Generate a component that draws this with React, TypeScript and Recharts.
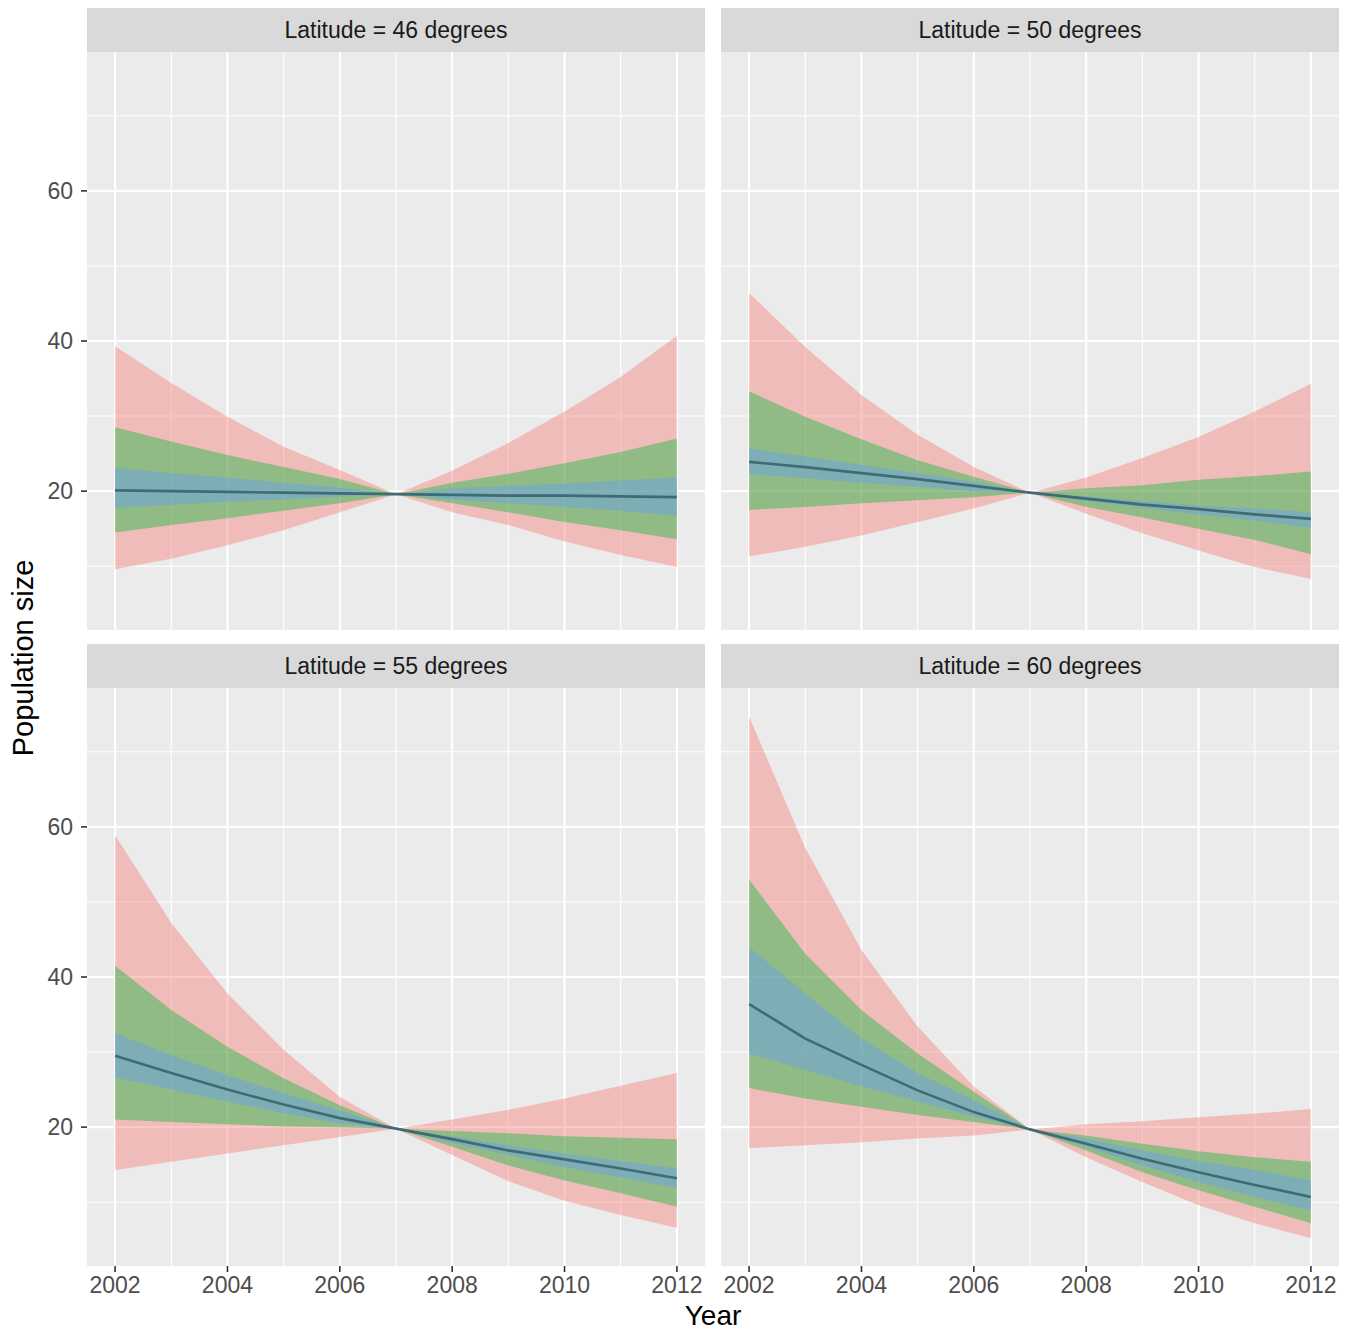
import { ComposedChart, Area, Line, XAxis, YAxis, CartesianGrid } from 'recharts';

// Population projections by latitude, ribbons = nested credible bands

const years = [2002, 2003, 2004, 2005, 2006, 2007, 2008, 2009, 2010, 2011, 2012];
const xTicks = [2002, 2004, 2006, 2008, 2010, 2012];
const xMinor = [2003, 2005, 2007, 2009, 2011];
const yTicks = [20, 40, 60];
const yMinor = [10, 30, 50, 70];

// Latitude = 46
const lat46Mid = [20.1, 20.0, 19.9, 19.8, 19.7, 19.6, 19.5, 19.4, 19.4, 19.3, 19.2];
const lat46BlueLo = [17.8, 18.2, 18.6, 18.9, 19.3, 19.6, 18.9, 18.4, 17.9, 17.4, 16.7];
const lat46BlueHi = [23.1, 22.4, 21.8, 21.1, 20.5, 19.6, 20.4, 20.7, 21.0, 21.4, 21.8];
const lat46GreenLo = [14.5, 15.5, 16.4, 17.4, 18.4, 19.6, 18.4, 17.2, 15.9, 14.8, 13.6];
const lat46GreenHi = [28.5, 26.6, 24.8, 23.2, 21.6, 19.6, 21.1, 22.3, 23.7, 25.2, 27.0];
const lat46RedLo = [9.6, 11.0, 12.8, 14.8, 17.2, 19.6, 17.2, 15.5, 13.3, 11.5, 9.9];
const lat46RedHi = [39.3, 34.4, 29.9, 25.9, 22.8, 19.6, 22.7, 26.4, 30.6, 35.2, 40.7];

// Latitude = 50
const lat50Mid = [23.9, 23.2, 22.4, 21.6, 20.7, 19.8, 19.0, 18.2, 17.6, 16.9, 16.3];
const lat50BlueLo = [22.3, 21.7, 21.1, 20.6, 20.0, 19.8, 18.7, 17.8, 16.9, 16.1, 15.1];
const lat50BlueHi = [25.7, 24.6, 23.5, 22.4, 21.2, 19.8, 19.3, 18.7, 18.1, 17.7, 17.2];
const lat50GreenLo = [17.5, 17.9, 18.4, 18.8, 19.2, 19.8, 17.9, 16.5, 15.0, 13.5, 11.6];
const lat50GreenHi = [33.3, 29.9, 26.9, 24.1, 21.9, 19.8, 20.4, 20.8, 21.5, 22.0, 22.6];
const lat50RedLo = [11.3, 12.6, 14.1, 15.9, 17.7, 19.8, 17.0, 14.4, 12.1, 9.9, 8.3];
const lat50RedHi = [46.4, 39.2, 32.8, 27.5, 23.2, 19.8, 21.8, 24.4, 27.2, 30.6, 34.3];

// Latitude = 55
const lat55Mid = [29.5, 27.2, 25.0, 23.0, 21.2, 19.8, 18.4, 16.9, 15.7, 14.5, 13.2];
const lat55BlueLo = [26.6, 25.0, 23.4, 21.8, 20.5, 19.8, 17.9, 16.3, 14.7, 13.3, 11.9];
const lat55BlueHi = [32.5, 29.6, 26.9, 24.5, 22.2, 19.8, 18.8, 17.6, 16.5, 15.5, 14.5];
const lat55GreenLo = [21.0, 20.7, 20.4, 20.1, 20.0, 19.8, 17.4, 14.9, 12.9, 11.2, 9.4];
const lat55GreenHi = [41.5, 35.6, 30.7, 26.5, 22.9, 19.8, 19.5, 19.2, 18.8, 18.6, 18.4];
const lat55RedLo = [14.3, 15.4, 16.5, 17.6, 18.7, 19.8, 16.3, 12.8, 10.2, 8.3, 6.6];
const lat55RedHi = [58.9, 47.2, 37.8, 30.3, 24.0, 19.8, 21.0, 22.3, 23.8, 25.5, 27.2];

// Latitude = 60
const lat60Mid = [36.4, 31.8, 28.3, 24.9, 22.0, 19.7, 17.8, 15.8, 14.0, 12.3, 10.7];
const lat60BlueLo = [29.8, 27.6, 25.4, 23.4, 21.4, 19.7, 17.4, 14.9, 12.7, 10.7, 8.9];
const lat60BlueHi = [44.0, 37.8, 31.8, 27.2, 23.6, 19.7, 18.5, 16.9, 15.5, 14.3, 12.9];
const lat60GreenLo = [25.2, 23.8, 22.7, 21.6, 20.7, 19.7, 16.9, 14.0, 11.6, 9.4, 7.2];
const lat60GreenHi = [53.0, 43.1, 35.6, 29.8, 24.7, 19.7, 18.9, 17.8, 16.8, 16.0, 15.4];
const lat60RedLo = [17.2, 17.6, 18.0, 18.5, 18.9, 19.7, 16.0, 12.7, 9.6, 7.2, 5.2];
const lat60RedHi = [74.7, 57.2, 43.6, 33.4, 25.4, 19.7, 20.4, 20.8, 21.3, 21.8, 22.4];

type Row = {
  year: number;
  mid: number;
  blueLo: number;
  blueHi: number;
  greenLo: number;
  greenHi: number;
  redLo: number;
  redHi: number;
};

const buildRows = (
  mid: number[], blueLo: number[], blueHi: number[],
  greenLo: number[], greenHi: number[], redLo: number[], redHi: number[]
): Row[] =>
  years.map((year, i) => ({
    year,
    mid: mid[i],
    blueLo: blueLo[i],
    blueHi: blueHi[i],
    greenLo: greenLo[i],
    greenHi: greenHi[i],
    redLo: redLo[i],
    redHi: redHi[i],
  }));

const FONT = '"Liberation Sans", Arial, Helvetica, sans-serif';
const X_DOMAIN: [number, number] = [2001.5, 2012.5];
const Y_DOMAIN: [number, number] = [1.5, 78.5];
const X_AXIS_H = 42;
const Y_AXIS_W = 87;

interface PanelProps {
  title: string;
  rows: Row[];
  left: number;
  top: number;
  showX: boolean;
  showY: boolean;
}

const PANEL_W = 618;
const PANEL_H = 578;
const STRIP_H = 44;

function Panel({ title, rows, left, top, showX, showY }: PanelProps) {
  const chartLeft = showY ? left - Y_AXIS_W : left;
  const width = PANEL_W + (showY ? Y_AXIS_W : 0);
  const height = PANEL_H + (showX ? X_AXIS_H : 0);
  return (
    <>
      {/* facet strip */}
      <div
        style={{
          position: 'absolute',
          left,
          top: top - STRIP_H,
          width: PANEL_W,
          height: STRIP_H,
          background: '#D9D9D9',
          color: '#1A1A1A',
          fontFamily: FONT,
          fontSize: 23,
          display: 'flex',
          alignItems: 'center',
          justifyContent: 'center',
        }}
      >
        {title}
      </div>
      <div style={{ position: 'absolute', left: chartLeft, top }}>
        <ComposedChart width={width} height={height} data={rows} margin={{ top: 0, right: 0, bottom: 0, left: 0 }}>
          <CartesianGrid fill="#EBEBEB" stroke="#FFFFFF" strokeWidth={1.1} horizontalValues={yMinor} verticalValues={xMinor} />
          <CartesianGrid stroke="#FFFFFF" strokeWidth={2.2} horizontalValues={yTicks} verticalValues={xTicks} />
          <XAxis
            type="number"
            dataKey="year"
            domain={X_DOMAIN}
            ticks={xTicks}
            allowDataOverflow
            hide={!showX}
            height={X_AXIS_H}
            axisLine={false}
            tickSize={6}
            tickMargin={5}
            tickLine={{ stroke: '#333333', strokeWidth: 1.6 }}
            tick={{ fill: '#4D4D4D', fontSize: 23, fontFamily: FONT }}
          />
          <YAxis
            type="number"
            domain={Y_DOMAIN}
            ticks={yTicks}
            allowDataOverflow
            hide={!showY}
            width={Y_AXIS_W}
            axisLine={false}
            tickSize={6}
            tickMargin={8}
            tickLine={{ stroke: '#333333', strokeWidth: 1.6 }}
            tick={{ fill: '#4D4D4D', fontSize: 23, fontFamily: FONT }}
          />
          <Area type="linear" dataKey={(d: Row) => [d.redLo, d.redHi]} fill="#F8766D" fillOpacity={0.4} stroke="none" isAnimationActive={false} />
          <Area type="linear" dataKey={(d: Row) => [d.greenLo, d.greenHi]} fill="#00BA38" fillOpacity={0.4} stroke="none" isAnimationActive={false} />
          <Area type="linear" dataKey={(d: Row) => [d.blueLo, d.blueHi]} fill="#619CFF" fillOpacity={0.4} stroke="none" isAnimationActive={false} />
          <Line type="linear" dataKey="mid" stroke="#3F6B75" strokeWidth={2.6} dot={false} isAnimationActive={false} />
        </ComposedChart>
      </div>
    </>
  );
}

export default function App() {
  return (
    <div style={{ position: 'absolute', left: 0, top: 0, width: 1352, height: 1332, background: '#FFFFFF', overflow: 'hidden' }}>
      <Panel
        title="Latitude = 46 degrees"
        rows={buildRows(lat46Mid, lat46BlueLo, lat46BlueHi, lat46GreenLo, lat46GreenHi, lat46RedLo, lat46RedHi)}
        left={87}
        top={52}
        showX={false}
        showY
      />
      <Panel
        title="Latitude = 50 degrees"
        rows={buildRows(lat50Mid, lat50BlueLo, lat50BlueHi, lat50GreenLo, lat50GreenHi, lat50RedLo, lat50RedHi)}
        left={721}
        top={52}
        showX={false}
        showY={false}
      />
      <Panel
        title="Latitude = 55 degrees"
        rows={buildRows(lat55Mid, lat55BlueLo, lat55BlueHi, lat55GreenLo, lat55GreenHi, lat55RedLo, lat55RedHi)}
        left={87}
        top={688}
        showX
        showY
      />
      <Panel
        title="Latitude = 60 degrees"
        rows={buildRows(lat60Mid, lat60BlueLo, lat60BlueHi, lat60GreenLo, lat60GreenHi, lat60RedLo, lat60RedHi)}
        left={721}
        top={688}
        showX
        showY={false}
      />
      {/* axis titles */}
      <svg width={1352} height={1332} style={{ position: 'absolute', left: 0, top: 0, pointerEvents: 'none' }}>
        <text x={713} y={1325} textAnchor="middle" fontFamily={FONT} fontSize={28} fill="#000000">
          Year
        </text>
        <text
          x={0}
          y={0}
          transform="translate(33, 658) rotate(-90)"
          textAnchor="middle"
          fontFamily={FONT}
          fontSize={29}
          fill="#000000"
        >
          Population size
        </text>
      </svg>
    </div>
  );
}
